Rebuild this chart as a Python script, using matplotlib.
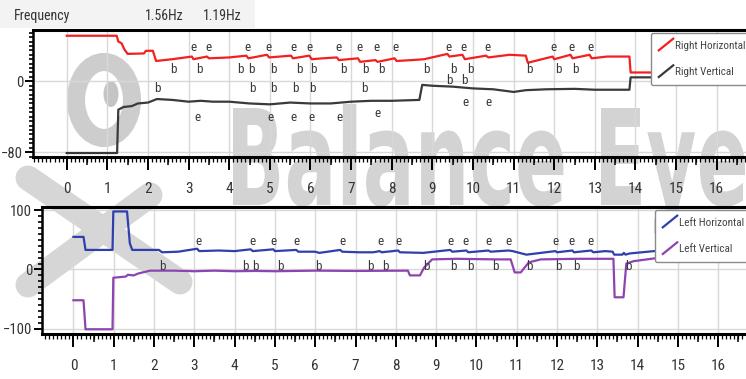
import numpy as np
import matplotlib
matplotlib.use('Agg')
import matplotlib.pyplot as plt
from matplotlib import font_manager as fm
from matplotlib.lines import Line2D
from matplotlib.legend_handler import HandlerLine2D
from matplotlib.ticker import MultipleLocator
from matplotlib.patches import Rectangle, Ellipse, PathPatch
from matplotlib.textpath import TextPath
from matplotlib.font_manager import FontProperties
from matplotlib.transforms import Affine2D

# buscar una fuente estrecha si existe
nombres = {f.name for f in fm.fontManager.ttflist}
familia = None
for cand in ['Roboto Condensed', 'Open Sans Condensed', 'Liberation Sans Narrow', 'Arial Narrow']:
    if cand in nombres:
        familia = cand
        break
if familia is None:
    if any(f.name == 'DejaVu Sans' and f.stretch == 'condensed' for f in fm.fontManager.ttflist):
        familia = 'DejaVu Sans'
        plt.rcParams['font.stretch'] = 'condensed'
    else:
        familia = 'Open Sans'
plt.rcParams['font.family'] = [familia, 'DejaVu Sans']

# --- panel superior (ojo derecho) ---
rh_x = [0, 1.23, 1.27, 1.35, 1.42, 1.5, 1.9, 1.95, 2.12, 2.2, 2.6, 3.08, 3.12, 3.45, 3.5, 4.0,
        4.42, 4.47, 4.93, 4.98, 5.52, 5.57, 5.97, 6.03, 6.3, 6.65, 6.7, 7.17, 7.22, 7.6, 7.65,
        8.07, 8.12, 8.5, 8.8, 9.37, 9.42, 9.74, 9.8, 10.32, 10.38, 10.9, 11.3, 11.35, 11.96,
        12.0, 12.4, 12.45, 12.87, 12.92, 13.3, 13.85, 13.88, 14.6]
rh_y = [51.5, 51.5, 45, 43, 36, 31, 31.5, 34.5, 34.5, 23, 25, 28, 25, 28, 26, 27,
        29, 26, 30, 27, 29, 26, 29, 25, 26, 27, 24, 26, 22, 24, 22,
        26, 23, 24, 25, 31, 28, 30, 25, 29, 27, 30, 29, 21, 28,
        25, 30, 26, 30, 26, 28, 28, 10, 10]

rv_x = [0, 1.24, 1.27, 1.4, 1.6, 1.75, 2.0, 2.22, 2.6, 3.0, 3.3, 3.6, 4.0, 4.5, 5.0, 5.5,
        6.0, 6.5, 7.0, 7.5, 8.0, 8.68, 8.75, 9.0, 9.5, 10.0, 10.5, 11.0, 11.3, 11.8, 12.5,
        13.0, 13.85, 13.88, 14.6]
rv_y = [-81, -81, -32, -29, -28, -25, -24, -20, -21, -23, -22, -23, -23, -25, -26, -24,
        -25, -25, -23, -22, -22, -21, -4, -5, -6, -8, -9, -12, -10, -9, -8.5,
        -9.5, -9.5, 4.5, 4.5]

# marcas e/b del panel superior
top_e_hi_x = [3.11, 3.48, 4.44, 4.96, 5.57, 5.97, 6.68, 7.2, 7.62, 8.09, 9.39, 9.76, 10.35, 11.98, 12.42, 12.89]
top_b_hi_x = [2.62, 3.26, 4.27, 4.54, 5.08, 5.72, 6.07, 6.81, 7.35, 7.74, 8.85, 9.52, 9.93, 11.39, 12.1, 12.52]
top_b_lo_x = [2.22, 4.56, 5.08, 5.62, 6.04, 7.32]
top_b_lo2_x = [9.42, 9.79]
top_e_lo_x = [3.21, 5.01, 5.58, 6.02, 6.71]
top_e_lo2_x = [7.64]
top_e_lo3_x = [9.81, 10.38]

# --- panel inferior (ojo izquierdo) ---
lh_x = [0, 0.25, 0.3, 0.97, 0.99, 1.33, 1.4, 1.46, 2.12, 2.2, 2.6, 3.07, 3.12, 3.6, 4.0, 4.4,
        4.45, 4.96, 5.0, 5.53, 5.58, 6.0, 6.1, 6.62, 6.67, 7.1, 7.44, 7.6, 7.65, 8.06, 8.1,
        8.68, 9.35, 9.4, 9.75, 9.8, 10.3, 10.35, 10.8, 10.9, 11.24, 11.6, 11.96, 12.0, 12.38,
        12.42, 12.85, 12.9, 13.2, 13.38, 13.42, 13.62, 13.66, 13.7, 13.8, 14.56]
lh_y = [55, 55, 33, 33, 98, 98, 44, 33, 33, 29, 30, 35, 31, 32, 31, 34,
        31, 34, 31, 33, 30, 30, 28, 33, 30, 29, 29, 31, 29, 32, 29,
        28, 33, 30, 32, 29, 32, 30, 32, 31, 25, 28, 31, 29, 32,
        29, 32, 29, 31, 30, 25, 25, 28, 25, 27, 32]

lv_x = [0, 0.25, 0.3, 0.97, 0.99, 1.3, 1.35, 1.5, 1.6, 1.9, 2.5, 3.0, 3.5, 4.0, 4.5, 5.0,
        6.0, 7.0, 8.3, 8.35, 8.6, 8.7, 8.9, 9.5, 10.5, 10.85, 10.95, 11.1, 11.3, 11.6, 12.5,
        13.4, 13.43, 13.65, 13.72, 13.9, 14.56]
lv_y = [-52, -52, -101, -101, -14, -12, -9, -10, -7, -2, -2, -3, -2, -3, -2.5, -3,
        -2, -2.5, -2, -10, -10, 3, 17, 18, 17, 17, -5, -5, 12, 17, 18,
        18, -47, -47, 10, 14, 20]

bot_e_x = [3.09, 4.43, 4.96, 5.53, 6.67, 7.61, 8.06, 9.35, 9.74, 10.29, 10.79, 11.95, 12.37, 12.84]
bot_e2_x = [14.7]
bot_b_x = [2.2, 4.26, 4.51, 5.13, 6.07, 7.36, 7.73, 8.76, 9.42, 9.84, 10.46, 11.32, 12.03, 12.48, 13.76]

freq_labels = ['Frequency', '1.56Hz', '1.19Hz']


class DiagHandler(HandlerLine2D):
    # muestra de leyenda en diagonal
    def create_artists(self, legend, orig_handle, xdescent, ydescent, width, height, fontsize, trans):
        ln = Line2D([-xdescent, -xdescent + width], [-ydescent - 0.2 * height, -ydescent + 1.3 * height],
                    color=orig_handle.get_color(), lw=orig_handle.get_linewidth())
        ln.set_transform(trans)
        return [ln]


fig = plt.figure(figsize=(7.46, 3.79), dpi=100)
fig.patch.set_facecolor('white')
px = Affine2D().scale(1 / 746, -1 / 379).translate(0, 1) + fig.transFigure

# marca de agua
wm = '#d3d3d3'
fig.add_artist(Ellipse((104, 100), 56, 76, fill=False, edgecolor='#cdcdcd', lw=13, transform=px, zorder=0.5))
fig.add_artist(Ellipse((111, 94), 15, 26, facecolor='#c4c4c4', edgecolor='none', transform=px, zorder=0.5))
fig.add_artist(Line2D([28, 180], [178, 282], color='#d6d6d6', lw=18, solid_capstyle='round', transform=px, zorder=0.5))
fig.add_artist(Line2D([28, 150], [285, 195], color='#d6d6d6', lw=18, solid_capstyle='round', transform=px, zorder=0.5))
fp = FontProperties(family='DejaVu Sans', weight='bold')
tp = TextPath((0, 0), 'Balance Eye', size=1, prop=fp)
ext = tp.get_extents()
cap = TextPath((0, 0), 'B', size=1, prop=fp).get_extents().height
sx = (745 - 233) / ext.width
sy = (205 - 108) / cap
tr = Affine2D().translate(-ext.x0, 0).scale(sx / 746, sy / 379).translate(233 / 746, (379 - 205) / 379)
fig.add_artist(PathPatch(tr.transform_path(tp), facecolor=wm, edgecolor='none',
                         transform=fig.transFigure, zorder=0.5))

# cabecera
fig.add_artist(Rectangle((0, 0), 255, 28, facecolor='#f3f3f3', edgecolor='none', transform=px, zorder=0.6))
for lab, xx in zip(freq_labels, [14, 145, 203]):
    fig.text(xx / 746, 1 - 16 / 379, lab, fontsize=10, color='#333333', va='center', ha='left', zorder=2)

ax1 = fig.add_axes([33 / 746, (379 - 157) / 379, 1 - 33 / 746, 127 / 379])
ax2 = fig.add_axes([42 / 746, (379 - 334) / 379, 1 - 42 / 746, 127.3 / 379])

ax1.plot(rh_x, rh_y, color='#f22020', lw=1.6, label='Right Horizontal', zorder=3)
ax1.plot(rv_x, rv_y, color='#3a3a3a', lw=1.6, label='Right Vertical', zorder=3)
ax2.plot(lh_x, lh_y, color='#2f3fae', lw=1.6, label='Left Horizontal', zorder=3)
ax2.plot(lv_x, lv_y, color='#8e44b0', lw=1.6, label='Left Vertical', zorder=3)

txt = dict(ha='center', va='center', fontsize=9.5, color='#3a3a3a', zorder=4)
for xs, yy, s in [(top_e_hi_x, 38, 'e'), (top_b_hi_x, 13, 'b'), (top_b_lo_x, -8.6, 'b'),
                  (top_b_lo2_x, 1.5, 'b'), (top_e_lo_x, -40.6, 'e'), (top_e_lo2_x, -36, 'e'),
                  (top_e_lo3_x, -24, 'e')]:
    for xx in xs:
        ax1.text(xx, yy, s, **txt)
for xs, yy, s in [(bot_e_x, 47, 'e'), (bot_e2_x, 44, 'e'), (bot_b_x, 5, 'b')]:
    for xx in xs:
        ax2.text(xx, yy, s, **txt)

ax1.set_xlim(-0.83, 16.72)
ax1.set_ylim(-85.5, 58)
ax1.set_yticks([-80, 0])
ax1.yaxis.set_minor_locator(MultipleLocator(5))
ax2.set_xlim(-0.78, 16.69)
ax2.set_ylim(-109, 106)
ax2.set_yticks([-100, 0, 100])
ax2.yaxis.set_minor_locator(MultipleLocator(10))

for ax in (ax1, ax2):
    ax.set_facecolor('none')
    ax.set_zorder(1)
    ax.set_xticks(np.arange(0, 17))
    ax.xaxis.set_minor_locator(MultipleLocator(0.1))
    ax.tick_params(axis='x', which='major', direction='out', length=9, width=1.4, pad=9,
                   labelsize=11, labelcolor='#333333')
    ax.tick_params(axis='x', which='minor', direction='out', length=3.5, width=0.9)
    ax.tick_params(axis='y', which='major', direction='out', length=6, width=1.4, pad=1,
                   labelsize=10.5, labelcolor='#333333')
    ax.tick_params(axis='y', which='minor', direction='out', length=3, width=1.2)
    ax.grid(True, which='major', color='#d8d8d8', lw=1, zorder=0)
    ax.spines['right'].set_visible(False)
    ax.spines['top'].set_linewidth(2.2)
    ax.spines['bottom'].set_linewidth(2.2)
    ax.spines['left'].set_linewidth(1.8)
    sec = ax.secondary_xaxis('bottom')
    sec.set_xticks(np.arange(0.5, 17, 1))
    sec.tick_params(length=6, width=1.1, labelbottom=False)
    sec.spines['bottom'].set_visible(False)

leg_kw = dict(handler_map={Line2D: DiagHandler()}, loc='upper left', bbox_transform=fig.transFigure,
              fontsize=8, frameon=True, fancybox=True, edgecolor='#8a8a8a', framealpha=1,
              handlelength=1.3, handletextpad=0.2, labelspacing=1.5, borderpad=0.7,
              borderaxespad=0, labelcolor='#444444')
l1 = ax1.legend(bbox_to_anchor=(651 / 746, 1 - 33 / 379), **leg_kw)
l2 = ax2.legend(bbox_to_anchor=(655 / 746, 1 - 210 / 379), **leg_kw)
for lg in (l1, l2):
    lg.set_zorder(6)

fig.savefig('out.png', dpi=100)
